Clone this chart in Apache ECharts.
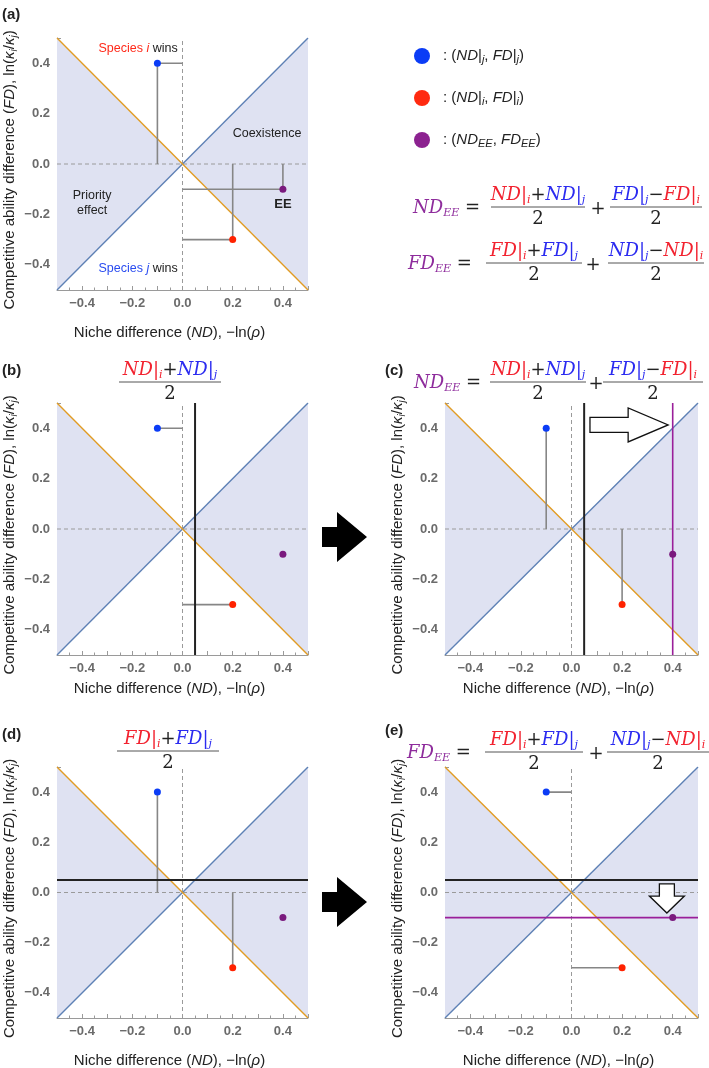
<!DOCTYPE html>
<html><head><meta charset="utf-8">
<script src="https://cdn.jsdelivr.net/npm/echarts@6/dist/echarts.min.js"></script>
<style>html,body{margin:0;padding:0;background:#fff}#c{width:709px;height:1068px}</style>
</head><body><div id="c"></div>
<script>
// ---------- data ----------
const axisMin = -0.5, axisMax = 0.5;
const tickValues = [-0.4, -0.2, 0, 0.2, 0.4];
const tickLabels = ['\u22120.4', '\u22120.2', '0.0', '0.2', '0.4'];
const lineYeqX = [[-0.5, -0.5], [0.5, 0.5]];      // blue boundary
const lineYeqNegX = [[-0.5, 0.5], [0.5, -0.5]];   // orange boundary
const priorityRegion = [[-0.5, 0.5], [0, 0], [-0.5, -0.5]];
const coexistRegion = [[0.5, 0.5], [0, 0], [0.5, -0.5]];
const speciesJ = [-0.1, 0.4];
const speciesI = [0.2, -0.3];
const meanND = (speciesI[0] + speciesJ[0]) / 2;   // 0.05
const meanFD = (speciesI[1] + speciesJ[1]) / 2;   // 0.05
const pointEE = [0.4, -0.1];
const arrowC = [[0.073, 0.413], [0.382, 0.413]];
const arrowE = [[0.377, 0.034], [0.377, -0.082]];

// ---------- styles ----------
const SANS = '"Liberation Sans", Arial, sans-serif';
const SERIF = '"DejaVu Serif", serif';
const C = {
  orange: '#e19c24', blue: '#5e81b5', shade: '#dfe2f2', seg: '#868686', dash: '#9a9a9a',
  ptBlue: '#0b3cf6', ptRed: '#ff2200', ptPurple: '#7a1a7e', lnPurple: '#9a1f9a', black: '#222',
  mRed: '#f2222f', mBlue: '#2b2bf0', mPurple: '#8e2c9c', tick: '#9a9a9a', lab: '#6b6b6b'
};

const grids = [
  { left: 57, top: 38, width: 251, height: 252 },
  { left: 57, top: 403, width: 251, height: 252 },
  { left: 445, top: 403, width: 253, height: 252 },
  { left: 57, top: 767, width: 251, height: 251 },
  { left: 445, top: 767, width: 253, height: 251 }
];
const xNameGap = [34, 25, 25, 34, 34];

function tickFmt(v) {
  for (let k = 0; k < tickValues.length; k++) if (Math.abs(v - tickValues[k]) < 1e-6) return tickLabels[k];
  return '';
}
const axisCommon = {
  type: 'value', min: axisMin, max: axisMax, interval: 0.1,
  axisLine: { show: true, onZero: false, lineStyle: { color: C.tick, width: 1 } },
  axisTick: { show: true, inside: true, length: 4, lineStyle: { color: C.tick } },
  minorTick: { show: true, splitNumber: 2, length: 2.5, lineStyle: { color: C.tick } },
  splitLine: { show: false },
  axisLabel: { formatter: tickFmt, color: C.lab, fontWeight: 'bold', fontSize: 13, fontFamily: SANS, margin: 7, showMinLabel: true, showMaxLabel: true, hideOverlap: false },
  nameLocation: 'middle', nameMoveOverlap: false
};
const nameRich = {
  n: { fontFamily: SANS, fontSize: 15, color: '#222' },
  i: { fontFamily: SANS, fontSize: 15, color: '#222', fontStyle: 'italic' },
  s: { fontFamily: SANS, fontSize: 10, color: '#222', fontStyle: 'italic', verticalAlign: 'bottom', lineHeight: 10 }
};
const xName = '{n|Niche difference (}{i|ND}{n|), \u2212ln(}{i|\u03c1}{n|)}';
const yName = '{n|Competitive ability difference (}{i|FD}{n|), ln(}{i|\u03ba}{s|i}{n|/}{i|\u03ba}{s|j}{n|)}';

const xAxes = [], yAxes = [], series = [];
grids.forEach((g, i) => {
  xAxes.push(Object.assign({}, axisCommon, {
    gridIndex: i, position: 'bottom', name: xName, nameGap: xNameGap[i],
    nameTextStyle: { rich: nameRich, padding: [0, 26, 0, 0], lineHeight: 18 }
  }));
  yAxes.push(Object.assign({}, axisCommon, {
    gridIndex: i, position: 'left', name: yName, nameGap: 38, nameRotate: 90,
    nameTextStyle: { rich: nameRich, padding: [0, 12, 0, 0], lineHeight: 18 }
  }));
});

function addLine(i, data, color, width, extra) {
  series.push(Object.assign({
    type: 'line', xAxisIndex: i, yAxisIndex: i, data: data, symbol: 'none', silent: true,
    animation: false, lineStyle: { color: color, width: width }, z: 2
  }, extra || {}));
}
const hSeg = p => [[0, p[1]], [p[0], p[1]]];
const vSeg = p => [[p[0], p[1]], [p[0], 0]];
const vFull = x => [[x, axisMin], [x, axisMax]];
const hFull = y => [[axisMin, y], [axisMax, y]];

function addArrow(i, arr, headLen, shaftHalf, headHalf) {
  series.push({
    type: 'custom', xAxisIndex: i, yAxisIndex: i, data: [0], silent: true, animation: false, z: 5,
    renderItem: (params, api) => {
      const a = api.coord(arr[0]), b = api.coord(arr[1]);
      const dx = b[0] - a[0], dy = b[1] - a[1], len = Math.hypot(dx, dy);
      const ux = dx / len, uy = dy / len, vx = -uy, vy = ux;
      const loc = [[0, -shaftHalf], [len - headLen, -shaftHalf], [len - headLen, -headHalf], [len, 0],
                   [len - headLen, headHalf], [len - headLen, shaftHalf], [0, shaftHalf]];
      const pts = loc.map(p => [a[0] + ux * p[0] + vx * p[1], a[1] + uy * p[0] + vy * p[1]]);
      return { type: 'polygon', shape: { points: pts }, style: { fill: '#fff', stroke: '#111', lineWidth: 1.3 } };
    }
  });
}

grids.forEach((g, i) => {
  const regions = [priorityRegion, coexistRegion];
  series.push({
    type: 'custom', xAxisIndex: i, yAxisIndex: i, data: [0, 1], silent: true, animation: false, z: 1,
    renderItem: (params, api) => ({
      type: 'polygon', shape: { points: regions[params.dataIndex].map(p => api.coord(p)) },
      style: { fill: C.shade }
    })
  });
  addLine(i, vFull(0), C.dash, 1, { lineStyle: { color: C.dash, width: 1, type: [4, 3] } });
  addLine(i, hFull(0), C.dash, 1, { lineStyle: { color: C.dash, width: 1, type: [4, 3] } });
  addLine(i, lineYeqX, C.blue, 1.4);
  addLine(i, lineYeqNegX, C.orange, 1.4);
});

// panel (a)
[speciesJ, speciesI, pointEE].forEach(p => { addLine(0, hSeg(p), C.seg, 1.6, { z: 3 }); addLine(0, vSeg(p), C.seg, 1.6, { z: 3 }); });
// panel (b)
[speciesJ, speciesI].forEach(p => addLine(1, hSeg(p), C.seg, 1.6, { z: 3 }));
addLine(1, vFull(meanND), C.black, 2, { z: 3 });
// panel (c)
[speciesJ, speciesI].forEach(p => addLine(2, vSeg(p), C.seg, 1.6, { z: 3 }));
addLine(2, vFull(meanND), C.black, 2, { z: 3 });
addLine(2, vFull(pointEE[0]), C.lnPurple, 1.6, { z: 3 });
addArrow(2, arrowC, 40, 7.5, 17);
// panel (d)
[speciesJ, speciesI].forEach(p => addLine(3, vSeg(p), C.seg, 1.6, { z: 3 }));
addLine(3, hFull(meanFD), C.black, 2, { z: 3 });
// panel (e)
[speciesJ, speciesI].forEach(p => addLine(4, hSeg(p), C.seg, 1.6, { z: 3 }));
addLine(4, hFull(meanFD), C.black, 2, { z: 3 });
addLine(4, hFull(pointEE[1]), C.lnPurple, 1.6, { z: 3 });
addArrow(4, arrowE, 17, 7.5, 17.5);

// points
grids.forEach((g, i) => {
  [[speciesJ, C.ptBlue], [speciesI, C.ptRed], [pointEE, C.ptPurple]].forEach(([p, col]) => {
    series.push({ type: 'scatter', xAxisIndex: i, yAxisIndex: i, data: [p], symbolSize: 7, silent: true,
      animation: false, itemStyle: { color: col, opacity: 1 }, z: 6 });
  });
});

// ---------- graphics (titles, legend, formulas) ----------
const px = (i, x) => grids[i].left + (x - axisMin) / (axisMax - axisMin) * grids[i].width;
const py = (i, y) => grids[i].top + (axisMax - y) / (axisMax - axisMin) * grids[i].height;

const MF = 18;
function ms(fill, italic, size, lh, sub) {
  const o = { fontFamily: SERIF, fontSize: size || MF, fill: fill, lineHeight: lh || 22 };
  if (italic) o.fontStyle = 'italic';
  if (sub) o.verticalAlign = 'bottom';
  return o;
}
const mathRich = {
  R: ms(C.mRed, true), B: ms(C.mBlue, true), P: ms(C.mPurple, true),
  Ru: ms(C.mRed, false), Bu: ms(C.mBlue, false), K: ms('#222', false),
  Rs: ms(C.mRed, true, 11, 11, true), Bs: ms(C.mBlue, true, 11, 11, true), Ps: ms(C.mPurple, true, 11, 11, true)
};
const NDi = '{R|ND}{Ru||}{Rs|i}', NDj = '{B|ND}{Bu||}{Bs|j}';
const FDi = '{R|FD}{Ru||}{Rs|i}', FDj = '{B|FD}{Bu||}{Bs|j}';
const numND = NDi + '{K|+}' + NDj;
const numFD = FDi + '{K|+}' + FDj;
const numFDdiff = FDj + '{K|\u2212}' + FDi;
const numNDdiff = NDj + '{K|\u2212}' + NDi;
const lhsND = '{P|ND}{Ps|EE}{K| = }';
const lhsFD = '{P|FD}{Ps|EE}{K| = }';

const graphics = [];
function text(x, y, t, rich, align, vAlign, font, fill) {
  graphics.push({ type: 'text', silent: true, z: 20, style: {
    x: x, y: y, text: t, rich: rich || undefined, align: align || 'left', verticalAlign: vAlign || 'middle',
    font: font || ('13px ' + SANS), fill: fill || '#222' }
  });
}
function frac(cx, barY, halfW, num) {
  text(cx, barY - 1, num, mathRich, 'center', 'bottom');
  graphics.push({ type: 'line', silent: true, z: 20, shape: { x1: cx - halfW, y1: barY, x2: cx + halfW, y2: barY },
    style: { stroke: '#555', lineWidth: 1 } });
  text(cx, barY + 1, '{K|2}', mathRich, 'center', 'top');
}
function equation(x0, barY, lhs, n1, c1, h1, plusX, n2, c2, h2) {
  text(x0, barY + 1, lhs, mathRich, 'left', 'middle');
  frac(c1, barY, h1, n1);
  text(plusX, barY + 2, '{K|+}', mathRich, 'center', 'middle');
  frac(c2, barY, h2, n2);
}

// panel labels
const boldLab = 'bold 15px ' + SANS;
text(2, 15, '(a)', null, 'left', 'middle', boldLab);
text(2, 371, '(b)', null, 'left', 'middle', boldLab);
text(385, 371, '(c)', null, 'left', 'middle', boldLab);
text(2, 735, '(d)', null, 'left', 'middle', boldLab);
text(385, 731, '(e)', null, 'left', 'middle', boldLab);

// panel titles
frac(170, 382, 51, numND);
equation(414, 382, lhsND, numND, 538, 48, 596, numFDdiff, 653, 50);
frac(168, 751, 51, numFD);
equation(407, 752, lhsFD, numFD, 534, 49, 596, numNDdiff, 658, 51);

// equations in the top-right block
equation(413, 207, lhsND, numND, 538, 47, 598, numFDdiff, 656, 46);
equation(408, 263, lhsFD, numFD, 534, 48, 593, numNDdiff, 656, 48);

// legend
const legRich = {
  u: { fontFamily: SANS, fontSize: 15, fill: '#222', lineHeight: 18 },
  i: { fontFamily: SANS, fontSize: 15, fill: '#222', fontStyle: 'italic', lineHeight: 18 },
  s: { fontFamily: SANS, fontSize: 11, fill: '#222', fontStyle: 'italic', lineHeight: 9, verticalAlign: 'bottom' }
};
const legendItems = [
  [C.ptBlue, '{u|: (}{i|ND}{u||}{s|j}{u|, }{i|FD}{u||}{s|j}{u|)}'],
  ['#ff2a10', '{u|: (}{i|ND}{u||}{s|i}{u|, }{i|FD}{u||}{s|i}{u|)}'],
  ['#8c2290', '{u|: (}{i|ND}{s|EE}{u|, }{i|FD}{s|EE}{u|)}']
];
legendItems.forEach((it, k) => {
  const y = 56 + k * 42;
  graphics.push({ type: 'circle', silent: true, z: 20, shape: { cx: 422, cy: y, r: 8 }, style: { fill: it[0] } });
  text(443, y, it[1], legRich, 'left', 'middle');
});

// annotations in panel (a)
const AF = 12.5;
const annRich = {
  r: { fontFamily: SANS, fontSize: AF, fill: '#ff2a1a' },
  ri: { fontFamily: SANS, fontSize: AF, fill: '#ff2a1a', fontStyle: 'italic' },
  b: { fontFamily: SANS, fontSize: AF, fill: '#2a4cf0' },
  bi: { fontFamily: SANS, fontSize: AF, fill: '#2a4cf0', fontStyle: 'italic' },
  k: { fontFamily: SANS, fontSize: AF, fill: '#222' },
  kb: { fontFamily: SANS, fontSize: 13, fill: '#222', fontWeight: 'bold' }
};
text(px(0, -0.177), py(0, 0.46), '{r|Species }{ri|i}{k| wins}', annRich, 'center', 'middle');
text(px(0, -0.177), py(0, -0.413), '{b|Species }{bi|j}{k| wins}', annRich, 'center', 'middle');
text(px(0, 0.337), py(0, 0.119), '{k|Coexistence}', annRich, 'center', 'middle');
text(px(0, -0.36), py(0, -0.127), '{k|Priority}', annRich, 'center', 'middle');
text(px(0, -0.36), py(0, -0.183), '{k|effect}', annRich, 'center', 'middle');
text(px(0, 0.40), py(0, -0.159), '{kb|EE}', annRich, 'center', 'middle');

// big black arrows between panels
[537, 902].forEach(cy => {
  graphics.push({ type: 'polygon', silent: true, z: 20, shape: { points: [
    [322, cy - 10], [337, cy - 10], [337, cy - 25], [367, cy], [337, cy + 25], [337, cy + 10], [322, cy + 10]
  ] }, style: { fill: '#000' } });
});

const chart = echarts.init(document.getElementById('c'), null, { renderer: 'canvas' });
chart.setOption({
  animation: false,
  backgroundColor: '#fff',
  grid: grids.map(g => Object.assign({ outerBoundsMode: 'none', containLabel: false }, g)),
  xAxis: xAxes,
  yAxis: yAxes,
  series: series,
  graphic: { elements: graphics }
});
</script>
</body></html>
